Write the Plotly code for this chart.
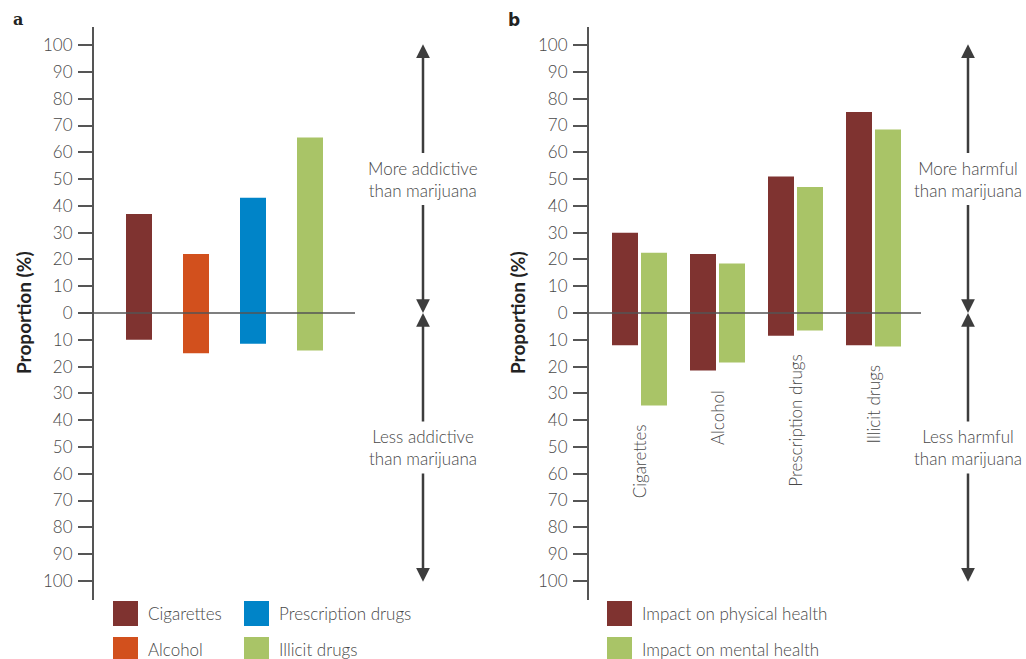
import plotly.graph_objects as go

# ---------------- data ----------------
drugs = ["Cigarettes", "Alcohol", "Prescription drugs", "Illicit drugs"]
drug_colors = ["#7f3330", "#d2501d", "#0084c8", "#a9c467"]

# Panel a: addictiveness relative to marijuana (%)
more_addictive = [37, 22, 43, 65.5]
less_addictive = [10, 15, 11.5, 14]

# Panel b: harm relative to marijuana (%)
more_harm_physical = [30, 22, 51, 75]
less_harm_physical = [12, 21.5, 8.5, 12]
more_harm_mental = [22.5, 18.5, 47, 68.5]
less_harm_mental = [34.5, 18.5, 6.5, 12.5]

series_b = ["Impact on physical health", "Impact on mental health"]
series_b_colors = ["#7f3330", "#a9c467"]

tick_values = list(range(-100, 101, 10))
tick_labels = [str(abs(v)) for v in tick_values]

# ---------------- layout helpers ----------------
W, H = 1026, 659
def px(x):
    return x / W
def py(y):
    return 1 - y / H

TEXT = "#484848"
AXC = "#555555"
FONT = "Lato"
FS = 17

fig = go.Figure()

xs = list(range(len(drugs)))

# Panel a bars
fig.add_trace(go.Bar(
    x=xs,
    y=[m + l for m, l in zip(more_addictive, less_addictive)],
    base=[-l for l in less_addictive],
    width=26 / 57,
    marker=dict(color=drug_colors, line=dict(width=0)),
    xaxis="x", yaxis="y", showlegend=False, hoverinfo="skip",
))

# Panel b bars
fig.add_trace(go.Bar(
    x=xs,
    y=[m + l for m, l in zip(more_harm_physical, less_harm_physical)],
    base=[-l for l in less_harm_physical],
    width=26 / 78, offset=-27.5 / 78,
    marker=dict(color=series_b_colors[0], line=dict(width=0)),
    xaxis="x2", yaxis="y2", showlegend=False, hoverinfo="skip",
))
fig.add_trace(go.Bar(
    x=xs,
    y=[m + l for m, l in zip(more_harm_mental, less_harm_mental)],
    base=[-l for l in less_harm_mental],
    width=26 / 78, offset=1.5 / 78,
    marker=dict(color=series_b_colors[1], line=dict(width=0)),
    xaxis="x2", yaxis="y2", showlegend=False, hoverinfo="skip",
))

ydom = [py(600), py(27)]
yscale = (581.7 - 46) / 200.0
yrange = [-(600 - 313) / yscale, (313 - 27) / yscale]

yaxis_common = dict(
    domain=ydom, range=yrange, tickvals=tick_values, ticktext=tick_labels,
    ticks="outside", ticklen=14, tickwidth=1.5, tickcolor=AXC,
    showline=True, linewidth=2, linecolor=AXC, showgrid=False, zeroline=False,
    tickfont=dict(family=FONT, size=FS, color=TEXT, weight=300),
    ticklabelstandoff=2, fixedrange=True,
)
xaxis_common = dict(visible=False, showgrid=False, zeroline=False, fixedrange=True)

fig.update_layout(
    width=W, height=H,
    margin=dict(l=0, r=0, t=0, b=0),
    paper_bgcolor="white", plot_bgcolor="rgba(0,0,0,0)",
    barmode="overlay",
    showlegend=False,
    xaxis=dict(domain=[px(94), px(480)], range=[-45 / 57, (480 - 139) / 57], anchor="y", **xaxis_common),
    yaxis=dict(anchor="x", **yaxis_common),
    xaxis2=dict(domain=[px(589), px(1010)], range=[-50.5 / 78, (1010 - 639.5) / 78], anchor="y2", **xaxis_common),
    yaxis2=dict(anchor="x2", **yaxis_common),
    font=dict(family=FONT, color=TEXT),
)

shapes = []
annotations = []

# zero lines
shapes.append(dict(type="line", xref="paper", yref="y", x0=px(78), x1=px(355), y0=0, y1=0,
                   line=dict(color=AXC, width=1.5), layer="above"))
shapes.append(dict(type="line", xref="paper", yref="y2", x0=px(574), x1=px(921), y0=0, y1=0,
                   line=dict(color=AXC, width=1.5), layer="above"))

# panel letters
annotations.append(dict(text="<b>a</b>", xref="paper", yref="paper", x=px(11), y=py(20),
                        xanchor="left", yanchor="middle", showarrow=False,
                        font=dict(family="DejaVu Serif", size=16, color="#222")))
annotations.append(dict(text="<b>b</b>", xref="paper", yref="paper", x=px(506), y=py(20),
                        xanchor="left", yanchor="middle", showarrow=False,
                        font=dict(family="DejaVu Sans", size=17, color="#222")))

# y titles
for xc in (24, 518):
    annotations.append(dict(text="<b>Proportion (%)</b>", xref="paper", yref="paper",
                            x=px(xc), y=py(313), textangle=-90, showarrow=False,
                            xanchor="center", yanchor="middle",
                            font=dict(family=FONT, size=19, color="#222")))

# double arrows with text
ARC = "#3d3d3d"
def arrow_pair(xpix, yref, text, ytext, yhead_a, yhead_b):
    for yh, col in ((yhead_a, TEXT), (yhead_b, "rgba(0,0,0,0)")):
        annotations.append(dict(
            text=text, xref="paper", yref=yref, x=px(xpix), y=yh,
            axref="pixel", ax=0, ayref=yref, ay=ytext,
            showarrow=True, arrowhead=2, arrowsize=1.1, arrowwidth=2.5, arrowcolor=ARC,
            startstandoff=3, align="center",
            font=dict(family=FONT, size=FS, color=col, weight=300),
        ))

for xpix, yref, word in ((423, "y", "addictive"), (968, "y2", "harmful")):
    arrow_pair(xpix, yref, f"More {word}<br>than marijuana", 50, 100.3, 0)
    arrow_pair(xpix, yref, f"Less {word}<br>than marijuana", -50.2, 0, -100.3)

# category labels in panel b
for i, name in enumerate(drugs):
    low = max(less_harm_physical[i], less_harm_mental[i])
    annotations.append(dict(text=name, xref="x2", yref="y2", x=i, y=-low - 6.5,
                            textangle=-90, showarrow=False, xanchor="center", yanchor="top",
                            font=dict(family=FONT, size=FS, color=TEXT, weight=300)))

# manual legends
def legend_item(x0, y0, color, label):
    shapes.append(dict(type="rect", xref="paper", yref="paper",
                       x0=px(x0), x1=px(x0 + 25), y0=py(y0 + 25), y1=py(y0),
                       fillcolor=color, line=dict(width=0)))
    annotations.append(dict(text=label, xref="paper", yref="paper",
                            x=px(x0 + 33), y=py(y0 + 12.5), xanchor="left", yanchor="middle",
                            showarrow=False, font=dict(family=FONT, size=FS, color=TEXT, weight=300)))

legend_item(113, 601, drug_colors[0], drugs[0])
legend_item(113, 637, drug_colors[1], drugs[1])
legend_item(244, 601, drug_colors[2], drugs[2])
legend_item(244, 637, drug_colors[3], drugs[3])
legend_item(607, 601, series_b_colors[0], series_b[0])
legend_item(607, 637, series_b_colors[1], series_b[1])

fig.update_layout(shapes=shapes, annotations=annotations)
fig.write_html(
    "out.html",
    config={"displayModeBar": False},
    post_script="document.body.style.margin='0px';document.body.style.overflow='hidden';",
)
